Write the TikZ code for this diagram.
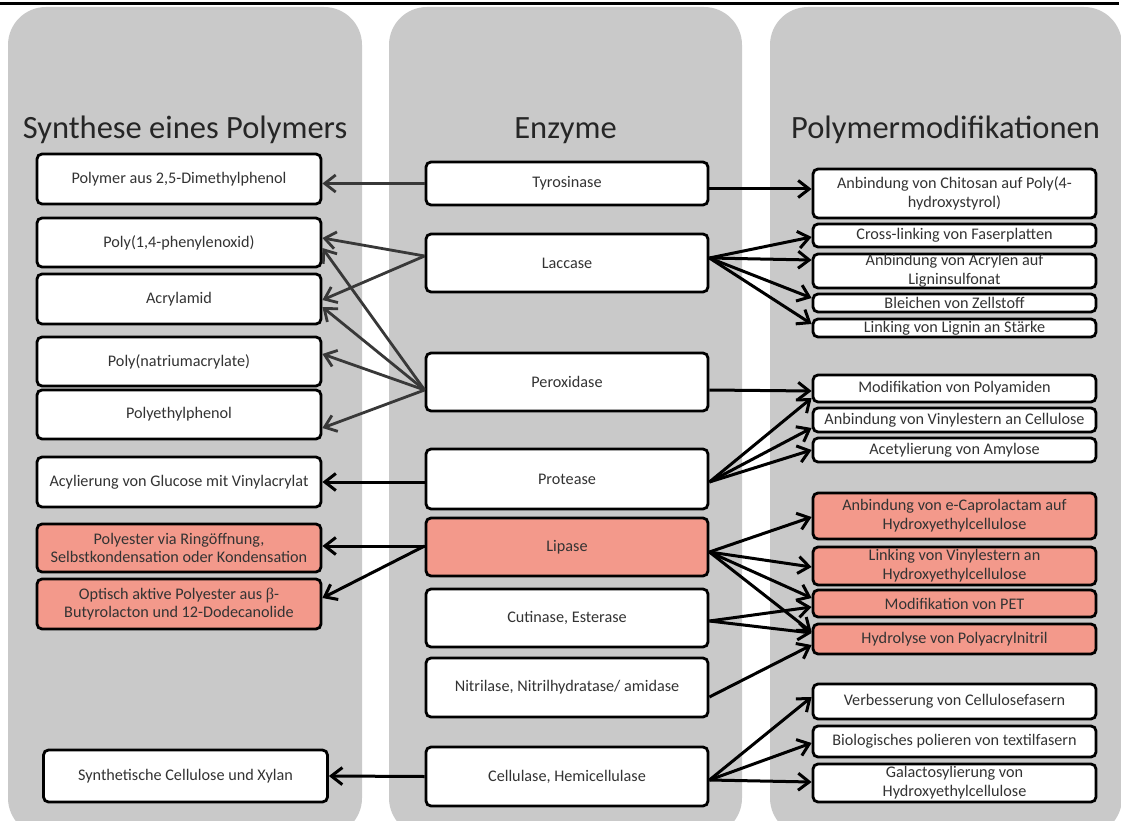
\documentclass[tikz,border=0pt]{standalone}
\usepackage{fontspec}
\setmainfont{Carlito}
\newfontfamily\symfont{Liberation Serif}
\usetikzlibrary{arrows.meta,calc}
\definecolor{panelgray}{HTML}{C9C9C9}
\definecolor{pinkfill}{HTML}{F3998B}
\definecolor{txt}{HTML}{333333}
\definecolor{ttl}{HTML}{262626}
\definecolor{arrgray}{HTML}{383838}
\begin{document}
\begin{tikzpicture}[x=1pt,y=-1pt,
  panel/.style={fill=panelgray, rounded corners=38pt},
  box/.style={draw=black, line width=2.8pt, rounded corners=5pt, fill=white, text=txt,
    font=\fontsize{16.2}{18.8}\selectfont, align=center, inner sep=0pt},
  pbox/.style={box, fill=pinkfill},
  lbox/.style={box, minimum width=284},
  mbox/.style={box, minimum width=282},
  rbox/.style={box, minimum width=283},
  rpbox/.style={pbox, minimum width=283},
  lpbox/.style={pbox, minimum width=284},
  title/.style={anchor=base, text=ttl, font=\fontsize{32.5}{39}\selectfont, inner sep=0pt},
  rarr/.style={draw=black, line width=3pt, -{Straight Barb[length=11pt,width=17pt]}},
  larr/.style={draw=arrgray, line width=2.8pt, -{Straight Barb[length=11pt,width=17pt]}}
]
\useasboundingbox (0,0) rectangle (1121,821);
\clip (0,0) rectangle (1121,821);
\fill[white] (0,0) rectangle (1121,821);
\draw[line width=2.5pt, black] (0,3.5) -- (1119,3.5);
% panels
\fill[panel] (8,7) rectangle (362,836);
\fill[panel] (389,7) rectangle (742,836);
\fill[panel] (770,7) rectangle (1122,836);
% titles
\node[title] (t1) at (185,139) {Synthese eines Polymers};
\node[title] (t2) at (565.5,139) {Enzyme};
\node[title] (t3) at (945.5,139) {Polymermodifikationen};
% left boxes
\node[lbox, minimum height=50] (L1) at (179,179) {Polymer aus 2,5-Dimethylphenol};
\node[lbox, minimum height=49] (L2) at (179,242.5) {Poly(1,4-phenylenoxid)};
\node[lbox, minimum height=50] (L3) at (179,299) {Acrylamid};
\node[lbox, minimum height=49] (L4) at (179,361.5) {Poly(natriumacrylate)};
\node[lbox, minimum height=49] (L5) at (179,414.5) {Polyethylphenol};
\node[lbox, minimum height=50] (L6) at (179,482) {Acylierung von Glucose mit Vinylacrylat};
\node[lpbox, minimum height=48] (L7) at (179,548) {Polyester via Ringöffnung,\\Selbstkondensation oder Kondensation};
\node[lpbox, minimum height=50] (L8) at (179,604) {Optisch aktive Polyester aus {\symfont β}-\\Butyrolacton und 12-Dodecanolide};
\node[lbox, minimum height=52] (L9) at (185.5,776) {Synthetische Cellulose und Xylan};
% middle boxes
\node[mbox, minimum height=43] (M1) at (567,183.5) {Tyrosinase};
\node[mbox, minimum height=58] (M2) at (567,263) {Laccase};
\node[mbox, minimum height=58] (M3) at (567,382) {Peroxidase};
\node[mbox, minimum height=60] (M4) at (567,479) {Protease};
\node[box, fill=pinkfill, minimum width=282, minimum height=58] (M5) at (567,547) {Lipase};
\node[mbox, minimum height=58] (M6) at (567,618) {Cutinase, Esterase};
\node[mbox, minimum height=59] (M7) at (567,687.5) {Nitrilase, Nitrilhydratase/ amidase};
\node[mbox, minimum height=59] (M8) at (567,776.5) {Cellulase, Hemicellulase};
% right boxes
\node[rbox, minimum height=49] (R1) at (954.5,193.5) {Anbindung von Chitosan auf Poly(4-\\hydroxystyrol)};
\node[rbox, minimum height=23] (R2) at (954.5,235.5) {Cross-linking von Faserplatten};
\node[rbox, minimum height=34] (R3) at (954.5,271) {Anbindung von Acrylen auf\\Ligninsulfonat};
\node[rbox, minimum height=18] (R4) at (954.5,303) {Bleichen von Zellstoff};
\node[rbox, minimum height=18] (R5) at (954.5,328) {Linking von Lignin an Stärke};
\node[rbox, minimum height=27] (R6) at (954.5,388.5) {Modifikation von Polyamiden};
\node[rbox, minimum height=24] (R7) at (954.5,420) {Anbindung von Vinylestern an Cellulose};
\node[rbox, minimum height=24] (R8) at (954.5,450) {Acetylierung von Amylose};
\node[rpbox, minimum height=46] (R9) at (954.5,516) {Anbindung von e-Caprolactam auf\\Hydroxyethylcellulose};
\node[rpbox, minimum height=38] (R10) at (954.5,566) {Linking von Vinylestern an\\Hydroxyethylcellulose};
\node[rpbox, minimum height=27] (R11) at (954.5,603.5) {Modifikation von PET};
\node[rpbox, minimum height=30] (R12) at (954.5,639) {Hydrolyse von Polyacrylnitril};
\node[rbox, minimum height=35] (R13) at (954.5,701.5) {Verbesserung von Cellulosefasern};
\node[rbox, minimum height=31] (R14) at (954.5,741.5) {Biologisches polieren von textilfasern};
\node[rbox, minimum height=38] (R15) at (954.5,783) {Galactosylierung von\\Hydroxyethylcellulose};
% left arrows
\draw[larr] (M1.west) -- ($(L1.east)+(0,4.5)$);
\draw[larr] ($(M2.west)+(0,-7)$) -- ($(L2.east)+(0,-4.5)$);
\draw[larr] ($(M2.west)+(0,-7)$) -- ($(L3.east)+(0,1)$);
\draw[larr] ($(M3.west)+(0,8)$) -- ($(L2.east)+(0,5.5)$);
\draw[larr] ($(M3.west)+(0,8)$) -- ($(L3.east)+(0,8)$);
\draw[larr] ($(M3.west)+(0,8)$) -- ($(L4.east)+(0,-7.5)$);
\draw[larr] ($(M3.west)+(0,8)$) -- ($(L5.east)+(0,13.5)$);
\draw[rarr] ($(M4.west)+(0,3)$) -- (L6.east);
\draw[rarr] ($(M5.west)+(0,-1)$) -- ($(L7.east)+(0,-2)$);
\draw[rarr] ($(M5.west)+(0,-1)$) -- ($(L8.east)+(0,-6)$);
\draw[rarr] (M8.west) -- (L9.east);
% right arrows
\draw[rarr] ($(M1.east)+(0,5.5)$) -- ($(R1.west)+(0,-4.5)$);
\draw[rarr] ($(M2.east)+(0,-5)$) -- ($(R2.west)+(0,1.5)$);
\draw[rarr] ($(M2.east)+(0,-5)$) -- ($(R3.west)+(0,-11)$);
\draw[rarr] ($(M2.east)+(0,-5)$) -- ($(R4.west)+(0,-5)$);
\draw[rarr] ($(M2.east)+(0,-5)$) -- ($(R5.west)+(0,-4)$);
\draw[rarr] ($(M3.east)+(0,8)$) -- ($(R6.west)+(0,2.5)$);
\draw[rarr] ($(M4.east)+(0,3)$) -- ($(R6.west)+(0,9.5)$);
\draw[rarr] ($(M4.east)+(0,3)$) -- ($(R7.west)+(0,8)$);
\draw[rarr] ($(M4.east)+(0,3)$) -- (R8.west);
\draw[rarr] ($(M5.east)+(0,5)$) -- ($(R9.west)+(0,1)$);
\draw[rarr] ($(M5.east)+(0,5)$) -- ($(R10.west)+(0,1)$);
\draw[rarr] ($(M5.east)+(0,5)$) -- ($(R11.west)+(0,-5.5)$);
\draw[rarr] ($(M5.east)+(0,5)$) -- ($(R12.west)+(0,-7)$);
\draw[rarr] ($(M6.east)+(0,3)$) -- ($(R11.west)+(0,3.5)$);
\draw[rarr] ($(M6.east)+(0,3)$) -- ($(R12.west)+(0,-6)$);
\draw[rarr] ($(M7.east)+(0,9.5)$) -- ($(R12.west)+(0,6)$);
\draw[rarr] ($(M8.east)+(0,3.5)$) -- ($(R13.west)+(0,-4.5)$);
\draw[rarr] ($(M8.east)+(0,3.5)$) -- ($(R14.west)+(0,1.5)$);
\draw[rarr] ($(M8.east)+(0,3.5)$) -- ($(R15.west)+(0,-1)$);
\end{tikzpicture}
\end{document}
